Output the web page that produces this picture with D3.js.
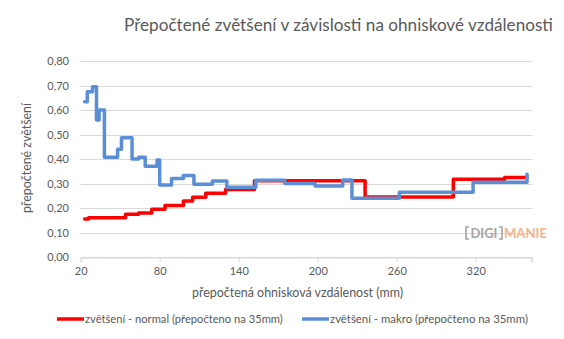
<!DOCTYPE html>
<html>
<head>
<meta charset="utf-8">
<script src="https://cdn.jsdelivr.net/npm/d3@7"></script>
<style>
  body { margin: 0; background: #fff; }
  svg { display: block; }
  text { font-family: Lato, "Open Sans", sans-serif; fill: #595959; }
</style>
</head>
<body>
<svg id="chart" width="564" height="339"></svg>
<script>
// Axis ticks
const yTicks = [0, 0.1, 0.2, 0.3, 0.4, 0.5, 0.6, 0.7, 0.8];
const xTicks = [20, 80, 140, 200, 260, 320];

// Normal mode: focal length (35mm equiv.) where each step starts, and its magnification
const normalFocal = [23, 26, 54, 64, 74, 84, 98, 105, 115, 130, 152, 236, 303, 342, 359];
const normalValue = [0.155, 0.16, 0.175, 0.18, 0.195, 0.21, 0.229, 0.244, 0.26, 0.276, 0.311, 0.245, 0.317, 0.324, 0.324];

// Macro mode
const macroFocal = [23, 25, 29, 32, 34, 38, 48, 51, 59, 64, 69, 78, 80, 89, 98, 106, 120, 131, 153, 175, 198, 219, 226, 262, 318, 359];
const macroValue = [0.634, 0.675, 0.695, 0.559, 0.60, 0.407, 0.44, 0.487, 0.40, 0.407, 0.37, 0.396, 0.294, 0.32, 0.333, 0.297, 0.31, 0.285, 0.313, 0.30, 0.29, 0.314, 0.24, 0.264, 0.305, 0.338];

const seriesNames = ["zvětšení - normal (přepočteno na 35mm)", "zvětšení - makro (přepočteno na 35mm)"];
const seriesColors = ["#ff0000", "#5b8fd5"];

const svg = d3.select("#chart");
const x = d3.scaleLinear().domain([20, 363]).range([80.7, 532.3]);
const y = d3.scaleLinear().domain([0, 0.8]).range([257, 61]);

// Scale a text element's font size so it spans the given width
function fitWidth(sel, w) {
  sel.each(function () {
    const fs = parseFloat(this.getAttribute("font-size"));
    const len = this.getComputedTextLength();
    this.setAttribute("font-size", (fs * w / len).toFixed(2));
  });
}

// Title
svg.append("text")
  .attr("x", 338.5).attr("y", 31)
  .attr("text-anchor", "middle")
  .attr("font-size", 18)
  .text("Přepočtené zvětšení v závislosti na ohniskové vzdálenosti")
  .call(fitWidth, 429);

// Horizontal gridlines
svg.append("g").selectAll("line")
  .data(yTicks)
  .join("line")
  .attr("x1", x.range()[0]).attr("x2", x.range()[1])
  .attr("y1", d => Math.round(y(d)) + 0.5).attr("y2", d => Math.round(y(d)) + 0.5)
  .attr("stroke", "#d9d9d9").attr("stroke-width", 1);

// Y tick labels
svg.append("g").selectAll("text")
  .data(yTicks)
  .join("text")
  .attr("x", 69).attr("y", d => y(d) + 4)
  .attr("text-anchor", "end")
  .attr("font-size", 11)
  .text(d => d3.format(".2f")(d).replace(".", ","));

// X axis
const xAxis = d3.axisBottom(x)
  .tickValues(xTicks)
  .tickSize(5)
  .tickPadding(5)
  .tickFormat(d3.format("d"));
const gx = svg.append("g")
  .attr("transform", `translate(0,${Math.round(y(0)) + 0.5})`)
  .call(xAxis);
gx.select(".domain").attr("stroke", "#d9d9d9");
gx.selectAll(".tick line").attr("stroke", "#d9d9d9");
gx.selectAll(".tick text")
  .attr("font-family", "Lato, 'Open Sans', sans-serif")
  .attr("font-size", 11)
  .attr("fill", "#595959");
gx.append("line")
  .attr("x1", x.range()[1] - 0.5).attr("x2", x.range()[1] - 0.5)
  .attr("y1", 0).attr("y2", 5)
  .attr("stroke", "#d9d9d9");

// Axis titles
svg.append("text")
  .attr("x", 297.5).attr("y", 297)
  .attr("text-anchor", "middle")
  .attr("font-size", 12)
  .text("přepočtená ohnisková vzdálenost (mm)")
  .call(fitWidth, 211);

svg.append("text")
  .attr("transform", "translate(31,158) rotate(-90)")
  .attr("text-anchor", "middle")
  .attr("font-size", 12)
  .text("přepočtené zvětšení")
  .call(fitWidth, 110);

// Watermark
const wm = svg.append("g").attr("opacity", 0.8);
wm.append("path")
  .attr("d", "M469,227 h-3 v12 h3 M499,227 h3 v12 h-3")
  .attr("fill", "none").attr("stroke", "#8f8f8f").attr("stroke-width", 1.6);
wm.append("text")
  .attr("x", 470.5).attr("y", 237.5)
  .attr("font-size", 11).attr("font-weight", "bold")
  .style("fill", "#8f8f8f")
  .text("DIGI")
  .call(fitWidth, 27);
wm.append("text")
  .attr("x", 504).attr("y", 237.5)
  .attr("font-size", 11).attr("font-weight", "bold")
  .style("fill", "#f2a36f")
  .text("MANIE")
  .call(fitWidth, 43);

// Series lines
const series = [
  d3.zip(normalFocal, normalValue),
  d3.zip(macroFocal, macroValue)
];
const line = d3.line()
  .x(d => x(d[0]))
  .y(d => y(d[1]))
  .curve(d3.curveStepAfter);

svg.append("g").selectAll("path")
  .data(series)
  .join("path")
  .attr("d", line)
  .attr("fill", "none")
  .attr("stroke", (d, i) => seriesColors[i])
  .attr("stroke-width", 3.5)
  .attr("stroke-linejoin", "round")
  .attr("stroke-linecap", "round");

// Legend
const legendX = [57, 302];
const lg = svg.append("g").selectAll("g")
  .data(seriesNames)
  .join("g")
  .attr("transform", (d, i) => `translate(${legendX[i]},319)`);
lg.append("line")
  .attr("x1", 0).attr("x2", 27)
  .attr("stroke", (d, i) => seriesColors[i])
  .attr("stroke-width", 3.5);
lg.append("text")
  .attr("x", 28).attr("y", 4)
  .attr("font-size", 11)
  .text(d => d)
  .call(fitWidth, 198);
</script>
</body>
</html>
